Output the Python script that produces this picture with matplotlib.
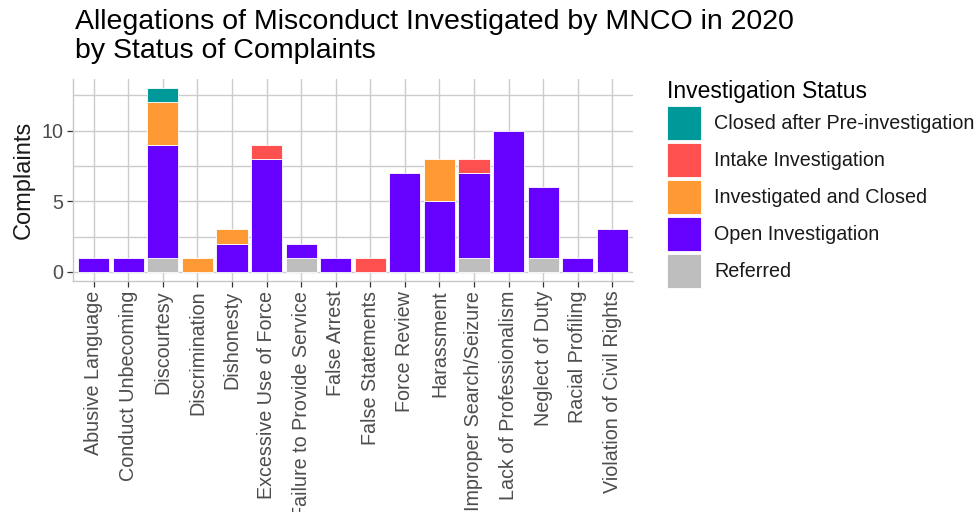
import matplotlib
matplotlib.use("Agg")
import matplotlib.pyplot as plt
from matplotlib.patches import Patch
import numpy as np

plt.rcParams['font.family'] = ['Liberation Sans', 'DejaVu Sans']

categories = ["Abusive Language", "Conduct Unbecoming", "Discourtesy", "Discrimination",
              "Dishonesty", "Excessive Use of Force", "Failure to Provide Service",
              "False Arrest", "False Statements", "Force Review", "Harassment",
              "Improper Search/Seizure", "Lack of Professionalism", "Neglect of Duty",
              "Racial Profiling", "Violation of Civil Rights"]

closed_pre   = [0, 0, 1, 0, 0, 0, 0, 0, 0, 0, 0, 0, 0, 0, 0, 0]
intake       = [0, 0, 0, 0, 0, 1, 0, 0, 1, 0, 0, 1, 0, 0, 0, 0]
inv_closed   = [0, 0, 3, 1, 1, 0, 0, 0, 0, 0, 3, 0, 0, 0, 0, 0]
open_inv     = [1, 1, 8, 0, 2, 8, 1, 1, 0, 7, 5, 6, 10, 5, 1, 3]
referred     = [0, 0, 1, 0, 0, 0, 1, 0, 0, 0, 0, 1, 0, 1, 0, 0]

status_labels = ["Closed after Pre-investigation", "Intake Investigation",
                 "Investigated and Closed", "Open Investigation", "Referred"]
status_colors = ["#009999", "#FF5050", "#FF9933", "#6600FF", "#BEBEBE"]

y_ticks = [0, 5, 10]

fig = plt.figure(figsize=(9.79, 5.12), dpi=100)
ax = fig.add_axes([73/979, 1-281/512, (633-73)/979, (281-79)/512])

x = np.arange(1, len(categories) + 1)
series_bottom_up = [referred, open_inv, inv_closed, intake, closed_pre]
colors_bottom_up = status_colors[::-1]
bottom = np.zeros(len(categories))
for vals, col in zip(series_bottom_up, colors_bottom_up):
    v = np.array(vals, dtype=float)
    mask = v > 0
    ax.bar(x[mask], v[mask], bottom=bottom[mask], width=0.9, color=col,
           edgecolor='white', linewidth=0.6, zorder=3)
    bottom += v

total_max = bottom.max()
ax.set_xlim(0.4, len(categories) + 0.6)
ax.set_ylim(-0.05 * total_max, total_max * 1.05)

ax.set_xticks(x)
ax.set_xticklabels(categories, rotation=90, fontsize=14.2, color='#4d4d4d')
ax.set_yticks(y_ticks)
ax.set_yticklabels([str(t) for t in y_ticks], fontsize=14.2, color='#4d4d4d')
ax.set_yticks([2.5, 7.5, 12.5], minor=True)
ax.tick_params(axis='y', which='minor', length=0)
ax.tick_params(axis='both', which='major', length=4, color='#333333', width=0.9, pad=3)

ax.grid(True, which='major', axis='both', color='#cccccc', linewidth=1.0, zorder=0)
ax.grid(True, which='minor', axis='y', color='#cccccc', linewidth=1.0, zorder=0)
ax.set_axisbelow(True)

for s in ['top', 'right']:
    ax.spines[s].set_visible(False)
for s in ['left', 'bottom']:
    ax.spines[s].set_color('#c8c8c8')
    ax.spines[s].set_linewidth(1.0)

ax.set_ylabel("Complaints", fontsize=17, color='#1a1a1a', labelpad=5)

fig.text(75/979, 1-9/512, "Allegations of Misconduct Investigated by MNCO in 2020\nby Status of Complaints",
         fontsize=20.5, ha='left', va='top', color='black', linespacing=1.15)

handles = [Patch(facecolor=c, edgecolor='white', linewidth=0.6) for c in status_colors]
leg = fig.legend(handles, status_labels, loc='upper left', bbox_to_anchor=(653/979, 1-66/512),
                 frameon=False, fontsize=14.2, title="Investigation Status", title_fontsize=16.5,
                 handlelength=1.73, handleheight=2.28, labelspacing=0.15, handletextpad=0.66,
                 alignment='left', borderaxespad=0.3)
for t in leg.get_texts():
    t.set_color('#1a1a1a')

fig.savefig("out.png", dpi=100)
